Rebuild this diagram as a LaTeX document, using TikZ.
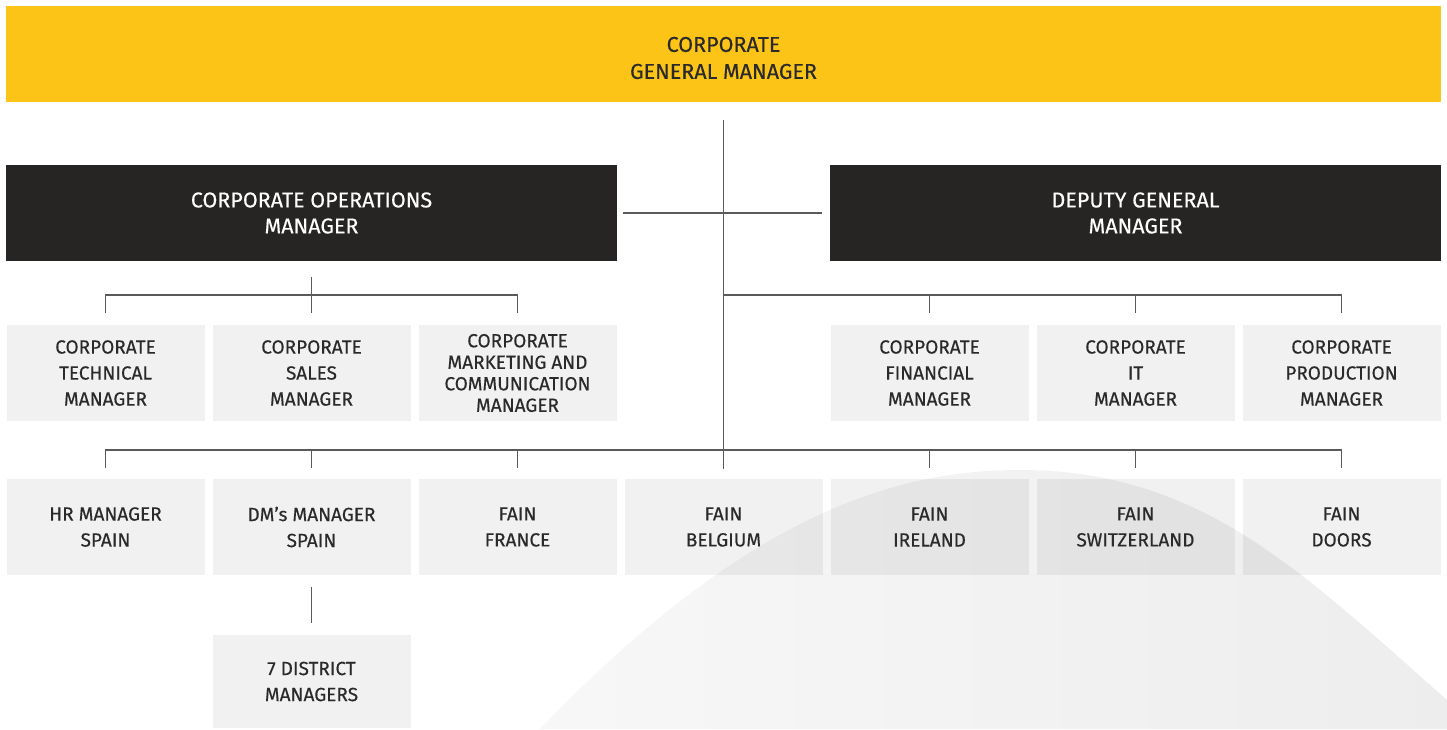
\documentclass[tikz,border=0pt]{standalone}
\usepackage{fontspec}
\setmainfont{Fira Sans}[UprightFeatures={FakeBold=0.35}]
\usetikzlibrary{positioning}
\definecolor{fainyellow}{HTML}{FDC418}
\definecolor{faindark}{HTML}{262523}
\definecolor{fainink}{HTML}{2A2A2A}
\definecolor{fainline}{HTML}{5A5A5A}

\begin{document}
\begin{tikzpicture}[x=1pt,y=-1pt,
	every node/.style={inner sep=0pt,outer sep=0pt,align=center,font=\fontsize{19}{26}\selectfont},
	top box/.style={fill=fainyellow,text=fainink,minimum width=1435pt,minimum height=96pt,font=\fontsize{21.5}{27}\selectfont},
	dark box/.style={fill=faindark,text=white,minimum width=611pt,minimum height=96pt,font=\fontsize{21.5}{26}\selectfont},
	unit box/.style={fill=black,fill opacity=0.055,text opacity=1,text=fainink,minimum width=198pt,minimum height=96pt},
	link/.style={draw=fainline,line width=1.4pt}]

	\useasboundingbox (0,0) rectangle (1447,729);
	\shade[left color=black!3,right color=black!7] (540,729) .. controls (750,510) and (900,470) .. (1020,470)
		.. controls (1200,470) and (1300,570) .. (1447,700) -- (1447,729) -- cycle;

	\node[top box] (gm) at (723.5,54) {\rule{0pt}{23pt}CORPORATE\\GENERAL MANAGER};

	\node[unit box] (tech) at (105.5,373) {CORPORATE\\TECHNICAL\\MANAGER};
	\node[unit box] (sales) [right=8pt of tech] {CORPORATE\\SALES\\MANAGER};
	\node[unit box,font=\fontsize{19}{21.5}\selectfont] (mkt) [right=8pt of sales] {CORPORATE\\MARKETING AND\\COMMUNICATION\\MANAGER};
	\node[unit box] (fin) [right=214pt of mkt] {CORPORATE\\FINANCIAL\\MANAGER};
	\node[unit box] (it) [right=8pt of fin] {CORPORATE\\IT\\MANAGER};
	\node[unit box] (prod) [right=8pt of it] {CORPORATE\\PRODUCTION\\MANAGER};

	\node[dark box] (com) [above=64pt of sales] {CORPORATE OPERATIONS\\MANAGER};
	\node[dark box] (dgm) [above=64pt of it] {DEPUTY GENERAL\\MANAGER};

	\node[unit box] (hr) [below=58pt of tech] {HR MANAGER\\SPAIN};
	\node[unit box] (dms) [right=8pt of hr] {DM's MANAGER\\SPAIN};
	\node[unit box] (fr) [right=8pt of dms] {FAIN\\FRANCE};
	\node[unit box] (be) [right=8pt of fr] {FAIN\\BELGIUM};
	\node[unit box] (ie) [right=8pt of be] {FAIN\\IRELAND};
	\node[unit box] (ch) [right=8pt of ie] {FAIN\\SWITZERLAND};
	\node[unit box] (doors) [right=8pt of ch] {FAIN\\DOORS};

	\node[unit box,minimum height=93pt] (district) [below=60pt of dms] {7 DISTRICT\\MANAGERS};

	\coordinate (lbus) at ([yshift=-34pt]com.south);
	\coordinate (rbus) at (gm.south |- lbus);
	\coordinate (bbus) at ([yshift=29pt]be.north);

	\draw[link] ([yshift=-18pt]gm.south) -- ([yshift=10pt]be.north);
	\draw[link] ([xshift=6pt]com.east) -- ([xshift=-8pt]dgm.west);

	\draw[link] ([yshift=-16pt]com.south) -- (lbus);
	\draw[link] ([yshift=12pt]tech.north) |- (lbus) -| ([yshift=12pt]mkt.north);
	\draw[link] (sales.north |- lbus) -- ([yshift=12pt]sales.north);

	\draw[link] (rbus) -| ([yshift=12pt]prod.north);
	\foreach \n in {fin,it}
		\draw[link] (\n.north |- rbus) -- ([yshift=12pt]\n.north);

	\draw[link] ([yshift=11pt]hr.north) |- (bbus) -| ([yshift=11pt]doors.north);
	\foreach \n in {dms,fr,ie,ch}
		\draw[link] (\n.north |- bbus) -- ([yshift=11pt]\n.north);

	\draw[link] ([yshift=-12pt]dms.south) -- ([yshift=12pt]district.north);

\end{tikzpicture}
\end{document}
